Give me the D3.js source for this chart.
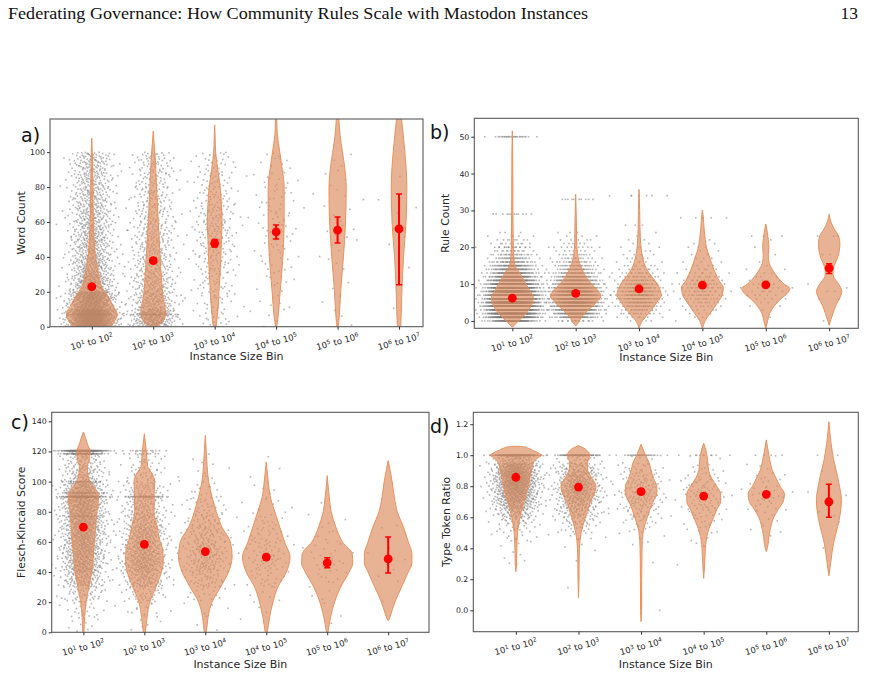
<!DOCTYPE html>
<html>
<head>
<meta charset="utf-8">
<script src="https://cdn.jsdelivr.net/npm/d3@7"></script>
<style>
  body { margin: 0; background: #fff; }
  svg { display: block; }
</style>
</head>
<body>
<div id="chart"></div>
<script>
// size bins: 10^low to 10^high
const binLow = [1, 2, 3, 4, 5, 6];
const binHigh = [2, 3, 4, 5, 6, 7];

// ---- a) word count ----
// violin outlines: [value, half width in bin units]
const wordViolin = [
  [[-5, 0.2], [0, 0.3], [1, 0.33], [3.8, 0.38], [6, 0.41], [7.7, 0.41], [11.5, 0.35], [17, 0.27], [23, 0.16], [30.6, 0.11], [42, 0.055], [50, 0.04], [61, 0.025], [80, 0.018], [95, 0.012], [108, 0]],
  [[-1.5, 0], [-0.5, 0.05], [1, 0.1], [3.8, 0.17], [7.7, 0.2], [11.5, 0.19], [17, 0.16], [26.8, 0.135], [42, 0.11], [61, 0.08], [80, 0.055], [95, 0.035], [105, 0.015], [112, 0]],
  [[-2, 0], [0, 0.02], [5, 0.04], [20, 0.07], [40, 0.1], [50, 0.11], [60, 0.12], [70, 0.11], [80, 0.09], [90, 0.05], [100, 0.016], [108, 0.008], [115.6, 0]],
  [[-2, 0], [0, 0.01], [5, 0.03], [20, 0.065], [40, 0.11], [60, 0.13], [80, 0.13], [90, 0.1], [100, 0.06], [110, 0.02], [120, 0.008], [125, 0]],
  [[-2, 0], [0, 0.01], [5, 0.025], [20, 0.05], [40, 0.095], [60, 0.13], [80, 0.14], [90, 0.12], [100, 0.08], [110, 0.04], [119, 0.02], [126, 0]],
  [[-5, 0.01], [0, 0.027], [20, 0.046], [40, 0.073], [60, 0.114], [80, 0.127], [100, 0.095], [119, 0.04], [130, 0]]
];
const wordMean = [22.9, 37.8, 47.8, 54.3, 55.3, 56.0];
const wordLo = [22.0, 36.8, 45.6, 50.3, 47.9, 24.0];
const wordHi = [23.8, 38.8, 50.0, 58.3, 62.8, 76.0];
// instance counts per 10-word bin
const wordBins = [0, 10, 20, 30, 40, 50, 60, 70, 80, 90];
const wordCounts = [
  [900, 500, 220, 160, 140, 130, 115, 105, 95, 95],
  [250, 150, 110, 90, 80, 70, 60, 55, 50, 50],
  [20, 25, 30, 40, 45, 50, 45, 35, 30, 25],
  [5, 6, 8, 10, 14, 16, 16, 14, 12, 10],
  [3, 2, 2, 3, 4, 5, 5, 4, 4, 3],
  [0, 1, 0, 1, 1, 1, 2, 1, 1, 0]
];
// repeated exact values: [bin, value, count]
const wordSpikes = [[0, 7, 80], [1, 7, 40]];

// ---- b) rule count ----
const ruleViolin = [
  [[-1.7, 0], [-0.8, 0.05], [0, 0.1], [1.2, 0.17], [2.5, 0.24], [3.9, 0.29], [5, 0.32], [6.6, 0.33], [8, 0.28], [10.2, 0.21], [12, 0.15], [13, 0.12], [14.7, 0.05], [17, 0.025], [20, 0.015], [30, 0.01], [45, 0.007], [51.6, 0]],
  [[-1.4, 0], [-0.5, 0.04], [1.2, 0.1], [3, 0.2], [3.9, 0.26], [5.5, 0.35], [6.8, 0.4], [8, 0.36], [10.2, 0.24], [12.9, 0.13], [15.6, 0.063], [18.4, 0.026], [22, 0.015], [28, 0.01], [34.4, 0]],
  [[-2, 0], [-1, 0.02], [0, 0.05], [1, 0.1], [2.5, 0.17], [4, 0.24], [5.5, 0.3], [7, 0.35], [8.5, 0.33], [10, 0.29], [12, 0.2], [13.5, 0.14], [15, 0.095], [17, 0.06], [20, 0.03], [25, 0.015], [30, 0.01], [35.7, 0]],
  [[-2, 0], [-1, 0.02], [0, 0.04], [1, 0.08], [3, 0.16], [5, 0.24], [7, 0.31], [9, 0.33], [11, 0.26], [14, 0.18], [17, 0.12], [20, 0.063], [22, 0.045], [25, 0.026], [28, 0.015], [30.1, 0]],
  [[-2, 0], [0, 0.03], [2, 0.06], [4, 0.13], [6, 0.24], [7.5, 0.34], [8.8, 0.38], [10, 0.29], [12, 0.18], [14, 0.1], [16, 0.05], [18, 0.04], [20, 0.05], [22, 0.04], [24, 0.025], [26.3, 0]],
  [[-1.2, 0], [0, 0.02], [2, 0.06], [4, 0.1], [6, 0.16], [8, 0.2], [10, 0.15], [12, 0.07], [13, 0.06], [15, 0.08], [17, 0.13], [19, 0.16], [21, 0.17], [23, 0.15], [25, 0.08], [27, 0.026], [29, 0]]
];
const ruleMean = [6.2, 7.5, 8.7, 9.7, 9.8, 14.3];
const ruleLo = [6.0, 7.3, 8.4, 9.3, 9.3, 12.9];
const ruleHi = [6.4, 7.7, 9.0, 10.1, 10.3, 15.5];
// rule counts are whole numbers: instances per level
const ruleLevels = [0, 1, 2, 3, 4, 5, 6, 7, 8, 9, 10, 11, 12, 13, 14, 15, 16, 17, 18, 19, 20, 21, 22, 23, 24];
const ruleCounts = [
  [120, 250, 300, 350, 400, 420, 420, 380, 330, 270, 230, 150, 120, 90, 70, 60, 40, 30, 25, 15, 20, 10, 8, 5, 3],
  [20, 60, 90, 120, 150, 170, 180, 170, 150, 120, 100, 80, 60, 45, 35, 28, 20, 15, 12, 8, 10, 6, 5, 4, 3],
  [3, 8, 15, 22, 30, 38, 42, 45, 42, 36, 30, 24, 18, 14, 10, 8, 6, 5, 4, 3, 4, 2, 2, 1, 1],
  [1, 2, 4, 6, 8, 10, 13, 15, 16, 16, 14, 12, 9, 7, 5, 4, 3, 3, 2, 2, 3, 2, 1, 0, 0],
  [0, 1, 0, 1, 2, 3, 4, 5, 6, 6, 5, 4, 3, 2, 2, 1, 1, 0, 1, 0, 1, 0, 1, 3, 0],
  [1, 0, 0, 0, 0, 0, 2, 0, 2, 1, 1, 0, 0, 0, 0, 0, 0, 0, 2, 0, 0, 0, 0, 3, 0]
];
const ruleSpikes = [[0, 29, 12], [0, 50, 28], [1, 33, 10], [2, 26, 3], [2, 34, 8], [3, 28, 6]];

// ---- c) Flesch-Kincaid ----
const fleschViolin = [
  [[-5, 0.008], [0, 0.01], [10, 0.02], [20, 0.045], [30, 0.09], [40, 0.14], [50, 0.16], [60, 0.18], [70, 0.2], [80, 0.22], [90, 0.25], [95, 0.2], [100, 0.11], [105, 0.075], [110, 0.065], [115, 0.1], [120, 0.11], [125, 0.065], [130, 0.027], [132.9, 0]],
  [[-3, 0], [0, 0.016], [10, 0.045], [20, 0.09], [30, 0.19], [40, 0.28], [47, 0.31], [55, 0.3], [60, 0.26], [70, 0.21], [80, 0.16], [90, 0.16], [100, 0.17], [105, 0.13], [110, 0.055], [120, 0.033], [131.8, 0]],
  [[-3, 0], [0, 0.016], [10, 0.045], [20, 0.11], [30, 0.25], [40, 0.38], [50, 0.44], [60, 0.41], [70, 0.27], [80, 0.18], [90, 0.11], [100, 0.055], [110, 0.03], [120, 0.016], [130.7, 0]],
  [[-3, 0], [0, 0.016], [10, 0.055], [20, 0.11], [30, 0.19], [40, 0.33], [50, 0.39], [60, 0.3], [70, 0.22], [80, 0.14], [90, 0.065], [100, 0.033], [113, 0]],
  [[-3, 0], [0, 0.012], [10, 0.055], [20, 0.12], [30, 0.22], [40, 0.36], [46, 0.42], [52, 0.41], [60, 0.25], [70, 0.14], [80, 0.065], [90, 0.033], [104, 0]],
  [[7.8, 0], [9, 0.02], [12, 0.045], [20, 0.11], [30, 0.22], [40, 0.33], [46, 0.39], [52, 0.39], [60, 0.33], [70, 0.25], [80, 0.15], [90, 0.1], [100, 0.065], [114, 0]]
];
const fleschMean = [69.8, 58.3, 53.6, 49.9, 46.1, 48.7];
const fleschLo = [69.0, 57.3, 52.2, 48.3, 42.8, 39.4];
const fleschHi = [70.6, 59.3, 55.0, 51.5, 49.4, 63.3];
const fleschBins = [0, 10, 20, 30, 40, 50, 60, 70, 80, 90, 100, 110];
const fleschCounts = [
  [10, 20, 50, 120, 180, 200, 210, 220, 230, 180, 90, 70],
  [5, 15, 40, 110, 170, 160, 140, 105, 80, 60, 35, 22],
  [2, 5, 15, 45, 75, 75, 60, 40, 25, 12, 6, 4],
  [1, 2, 6, 18, 30, 30, 22, 14, 8, 4, 2, 1],
  [1, 2, 3, 8, 12, 10, 6, 3, 1, 0, 0, 0],
  [0, 0, 1, 2, 3, 2, 1, 1, 0, 0, 0, 0]
];
const fleschSpikes = [[0, 120.5, 200], [0, 118.5, 80], [0, 90, 120], [0, 92.5, 40], [0, 100, 30], [0, 77, 20], [1, 90, 50], [1, 120.5, 15], [1, 118.5, 10]];

// ---- d) type token ratio ----
const ttrViolin = [
  [[0.249, 0], [0.3, 0.01], [0.4, 0.016], [0.5, 0.027], [0.6, 0.064], [0.7, 0.13], [0.8, 0.2], [0.85, 0.22], [0.9, 0.25], [0.95, 0.28], [0.97, 0.31], [0.985, 0.36], [1.0, 0.41], [1.01, 0.38], [1.03, 0.28], [1.045, 0.2], [1.055, 0.12], [1.058, 0]],
  [[0.081, 0], [0.2, 0.008], [0.3, 0.01], [0.4, 0.016], [0.5, 0.043], [0.6, 0.11], [0.7, 0.19], [0.75, 0.25], [0.8, 0.28], [0.85, 0.22], [0.9, 0.15], [0.95, 0.14], [0.985, 0.17], [1.0, 0.18], [1.02, 0.16], [1.045, 0.09], [1.062, 0]],
  [[-0.073, 0], [0, 0.008], [0.2, 0.01], [0.4, 0.016], [0.5, 0.032], [0.6, 0.1], [0.7, 0.19], [0.75, 0.25], [0.8, 0.25], [0.85, 0.2], [0.9, 0.16], [0.95, 0.13], [1.0, 0.07], [1.04, 0.03], [1.071, 0]],
  [[0.206, 0], [0.3, 0.016], [0.4, 0.027], [0.5, 0.064], [0.6, 0.16], [0.65, 0.21], [0.7, 0.27], [0.75, 0.27], [0.8, 0.21], [0.85, 0.13], [0.9, 0.08], [1.0, 0.053], [1.04, 0.03], [1.077, 0]],
  [[0.378, 0], [0.4, 0.016], [0.5, 0.053], [0.6, 0.12], [0.65, 0.19], [0.7, 0.27], [0.75, 0.29], [0.8, 0.22], [0.85, 0.16], [0.9, 0.1], [1.0, 0.043], [1.05, 0.02], [1.099, 0]],
  [[0.223, 0], [0.325, 0.035], [0.43, 0.072], [0.54, 0.14], [0.62, 0.18], [0.712, 0.2], [0.8, 0.17], [0.862, 0.14], [0.97, 0.077], [1.077, 0.035], [1.15, 0.015], [1.217, 0]]
];
const ttrMean = [0.858, 0.795, 0.765, 0.737, 0.748, 0.70];
const ttrLo = [0.855, 0.79, 0.758, 0.727, 0.735, 0.60];
const ttrHi = [0.861, 0.80, 0.772, 0.747, 0.761, 0.813];
const ttrBins = [0.25, 0.30, 0.35, 0.40, 0.45, 0.50, 0.55, 0.60, 0.65, 0.70, 0.75, 0.80, 0.85, 0.90, 0.95];
const ttrCounts = [
  [1, 3, 2, 4, 8, 15, 30, 60, 100, 140, 170, 190, 190, 160, 70],
  [0, 1, 1, 2, 8, 15, 30, 50, 70, 90, 100, 95, 80, 55, 25],
  [0, 1, 0, 2, 3, 6, 12, 20, 28, 35, 35, 30, 22, 14, 6],
  [1, 0, 0, 2, 3, 5, 8, 12, 16, 20, 20, 16, 10, 6, 3],
  [0, 0, 0, 0, 1, 3, 3, 4, 6, 8, 8, 6, 4, 3, 1],
  [0, 0, 0, 1, 0, 0, 1, 2, 0, 2, 2, 0, 1, 0, 0]
];
const ttrSpikes = [[0, 1.0, 200], [1, 1.0, 80], [2, 1.0, 30], [3, 1.0, 10], [4, 1.0, 4], [5, 1.0, 2], [1, 0.146, 1], [2, 0.0, 1]];

// layout of the four panels
const panels = [
  { letter: "a)", label: "Word Count", left: 50, right: 423, top: 119, bottom: 326.7,
    xdom: [-0.68, 5.39], ydom: [0, 119], ticks: [0, 20, 40, 60, 80, 100], fmt: d3.format("d"),
    violin: wordViolin, mean: wordMean, lo: wordLo, hi: wordHi,
    bins: wordBins, binW: 10, counts: wordCounts, spikes: wordSpikes,
    letterX: 21, letterY: 142, labelX: 21.7, titleY: 360 },
  { letter: "b)", label: "Rule Count", left: 474.3, right: 858.3, top: 118.3, bottom: 328.3,
    xdom: [-0.6, 5.46], ydom: [-2, 55], ticks: [0, 10, 20, 30, 40, 50], fmt: d3.format("d"),
    violin: ruleViolin, mean: ruleMean, lo: ruleLo, hi: ruleHi,
    bins: ruleLevels, binW: 0, counts: ruleCounts, spikes: ruleSpikes,
    letterX: 430, letterY: 139, labelX: 445, titleY: 361 },
  { letter: "c)", label: "Flesch-Kincaid Score", left: 51.7, right: 429, top: 412.3, bottom: 632.3,
    xdom: [-0.52, 5.67], ydom: [0, 146], ticks: [0, 20, 40, 60, 80, 100, 120, 140], fmt: d3.format("d"),
    violin: fleschViolin, mean: fleschMean, lo: fleschLo, hi: fleschHi,
    bins: fleschBins, binW: 10, counts: fleschCounts, spikes: fleschSpikes,
    letterX: 11, letterY: 429, labelX: 21.7, titleY: 668 },
  { letter: "d)", label: "Type Token Ratio", left: 473.3, right: 858.3, top: 412.3, bottom: 631.7,
    xdom: [-0.68, 5.47], ydom: [-0.138, 1.277], ticks: [0, 0.2, 0.4, 0.6, 0.8, 1.0, 1.2], fmt: d3.format(".1f"),
    violin: ttrViolin, mean: ttrMean, lo: ttrLo, hi: ttrHi,
    bins: ttrBins, binW: 0.05, counts: ttrCounts, spikes: ttrSpikes,
    letterX: 430, letterY: 433, labelX: 446.7, titleY: 668 }
];

const sans = "'DejaVu Sans', sans-serif";
const sigma = 0.18; // horizontal jitter spread, in bin units

const svg = d3.select("#chart").append("svg")
  .attr("width", 869)
  .attr("height", 674);

// page header
svg.append("text")
  .attr("x", 8).attr("y", 19)
  .attr("textLength", 580)
  .attr("lengthAdjust", "spacingAndGlyphs")
  .style("font-family", "'Liberation Serif', 'DejaVu Serif', serif")
  .style("font-size", "17.5px")
  .attr("fill", "#111")
  .text("Federating Governance: How Community Rules Scale with Mastodon Instances");
svg.append("text")
  .attr("x", 858).attr("y", 19)
  .attr("text-anchor", "end")
  .style("font-family", "'Liberation Serif', 'DejaVu Serif', serif")
  .style("font-size", "17.5px")
  .attr("fill", "#111")
  .text("13");

// normal quantile (Abramowitz-Stegun 26.2.23), used for jitter placement
function invNorm(p) {
  const q = p < 0.5 ? p : 1 - p;
  const t = Math.sqrt(-2 * Math.log(q));
  const z = t - (2.515517 + 0.802853 * t + 0.010328 * t * t) /
    (1 + 1.432788 * t + 0.189269 * t * t + 0.001308 * t * t * t);
  return p < 0.5 ? -z : z;
}

// Halton low-discrepancy sequence
function halton(i, b) {
  let f = 1, r = 0;
  while (i > 0) { f /= b; r += f * (i % b); i = Math.floor(i / b); }
  return r;
}

// spread the instances of every bin over the strip
function layoutPoints(p) {
  const pts = [];
  p.counts.forEach((arr, g) => {
    let n = 17 + g * 101;
    const place = (v0, w, k) => {
      for (let i = 0; i < k; i++, n++) {
        const u1 = Math.min(0.9993, Math.max(0.0007, halton(n, 2)));
        const u2 = halton(n, 3);
        pts.push({ x: g + sigma * invNorm(u1), v: v0 + w * u2 });
      }
    };
    arr.forEach((k, i) => place(p.bins[i], p.binW, k));
    p.spikes.filter(s => s[0] === g).forEach(s => place(s[1], 0, s[2]));
  });
  return pts;
}

panels.forEach((p, pi) => {
  const x = d3.scaleLinear().domain(p.xdom).range([p.left, p.right]);
  const y = d3.scaleLinear().domain(p.ydom).range([p.bottom, p.top]);

  const clipId = "clip" + pi;
  svg.append("clipPath").attr("id", clipId)
    .append("rect")
    .attr("x", p.left).attr("y", p.top)
    .attr("width", p.right - p.left).attr("height", p.bottom - p.top);

  const plot = svg.append("g").attr("clip-path", `url(#${clipId})`);

  // jittered instances
  plot.append("g").selectAll("rect")
    .data(layoutPoints(p))
    .join("rect")
    .attr("x", d => x(d.x) - 0.8)
    .attr("y", d => y(d.v) - 0.8)
    .attr("width", 1.6).attr("height", 1.6)
    .attr("fill", "#7a7a7a")
    .attr("opacity", 0.55);

  // violins
  p.violin.forEach((prof, g) => {
    const area = d3.area()
      .curve(d3.curveMonotoneY)
      .y(d => y(d[0]))
      .x0(d => x(g - d[1]))
      .x1(d => x(g + d[1]));
    plot.append("path")
      .attr("d", area(prof))
      .attr("fill", "#dc8a5c")
      .attr("fill-opacity", 0.66)
      .attr("stroke", "#e8925e")
      .attr("stroke-width", 1);
  });

  // means with error bars
  const m = plot.append("g");
  p.mean.forEach((v, g) => {
    const cx = x(g);
    m.append("line")
      .attr("x1", cx).attr("x2", cx)
      .attr("y1", y(p.lo[g])).attr("y2", y(p.hi[g]))
      .attr("stroke", "red").attr("stroke-width", 2);
    [p.lo[g], p.hi[g]].forEach(e => {
      m.append("line")
        .attr("x1", cx - 3).attr("x2", cx + 3)
        .attr("y1", y(e)).attr("y2", y(e))
        .attr("stroke", "red").attr("stroke-width", 1.5);
    });
    m.append("circle")
      .attr("cx", cx).attr("cy", y(v))
      .attr("r", 4.4)
      .attr("fill", "red");
  });

  // frame
  svg.append("rect")
    .attr("x", p.left).attr("y", p.top)
    .attr("width", p.right - p.left).attr("height", p.bottom - p.top)
    .attr("fill", "none")
    .attr("stroke", "#5a5a5a")
    .attr("stroke-width", 1.1);

  // y axis
  const yAxis = svg.append("g")
    .attr("transform", `translate(${p.left},0)`)
    .call(d3.axisLeft(y).tickValues(p.ticks).tickFormat(p.fmt).tickSize(3).tickPadding(2));
  yAxis.select(".domain").remove();
  yAxis.selectAll("line").attr("stroke", "#333");
  yAxis.selectAll("text")
    .style("font-family", sans).style("font-size", "7.8px").attr("fill", "#262626");

  // x axis with rotated bin labels
  const xAxis = svg.append("g")
    .attr("transform", `translate(0,${p.bottom})`)
    .call(d3.axisBottom(x).tickValues(d3.range(binLow.length)).tickFormat("").tickSize(3));
  xAxis.select(".domain").remove();
  xAxis.selectAll("line").attr("stroke", "#333");

  binLow.forEach((lo, g) => {
    const t = svg.append("text")
      .attr("transform", `translate(${x(g)},${p.bottom + 15}) rotate(-15)`)
      .attr("text-anchor", "middle")
      .attr("dy", "0.35em")
      .style("font-family", sans).style("font-size", "8.6px")
      .attr("fill", "#262626");
    t.append("tspan").text("10");
    t.append("tspan").attr("baseline-shift", "super").style("font-size", "6px").text(lo);
    t.append("tspan").text(" to 10");
    t.append("tspan").attr("baseline-shift", "super").style("font-size", "6px").text(binHigh[g]);
  });

  // axis titles
  svg.append("text")
    .attr("x", (p.left + p.right) / 2).attr("y", p.titleY)
    .attr("text-anchor", "middle")
    .style("font-family", sans).style("font-size", "11px")
    .attr("fill", "#262626")
    .text("Instance Size Bin");

  svg.append("text")
    .attr("transform", `translate(${p.labelX},${(p.top + p.bottom) / 2}) rotate(-90)`)
    .attr("text-anchor", "middle")
    .attr("dominant-baseline", "central")
    .style("font-family", sans).style("font-size", "10.8px")
    .attr("fill", "#262626")
    .text(p.label);

  // panel letter
  svg.append("text")
    .attr("x", p.letterX).attr("y", p.letterY)
    .style("font-family", sans).style("font-size", "19px")
    .attr("fill", "#111")
    .text(p.letter);
});
</script>
</body>
</html>
